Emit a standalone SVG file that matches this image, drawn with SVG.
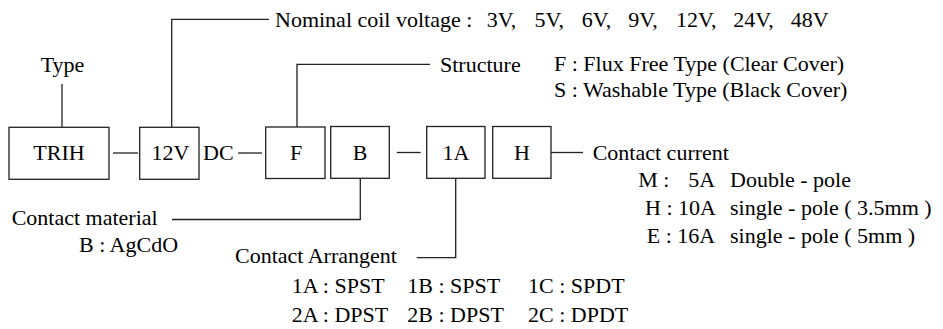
<svg xmlns="http://www.w3.org/2000/svg" width="943" height="329" viewBox="0 0 943 329">
<style>
text{font-family:'Liberation Serif','Times New Roman',Tinos,serif;font-size:22px;fill:#000}
.c{text-anchor:middle}
.box{fill:#fff;stroke:#222;stroke-width:1.3}
.ln{fill:none;stroke:#222;stroke-width:1.3}
</style>
<rect width="943" height="329" fill="#fff"/>
<g id="connectors">
<path class="ln" d="M62 84V127"/>
<path class="ln" d="M113 153H138"/>
<path class="ln" d="M171.7 127V19.3H269"/>
<path class="ln" d="M238 153H262"/>
<path class="ln" d="M297 127V64.3H430"/>
<path class="ln" d="M360.3 178V219.5H172"/>
<path class="ln" d="M396.7 152.5H420.7"/>
<path class="ln" d="M455.7 178V257.7H416.7"/>
<path class="ln" d="M551 152.5H583"/>
</g>
<g id="type"><text class="c" x="62.5" y="72">Type</text></g>
<g id="trih"><rect class="box" x="9" y="127.3" width="100" height="52"/><text class="c" x="59" y="160">TRIH</text></g>
<g id="v12"><rect class="box" x="139.7" y="127.3" width="59.3" height="52"/><text class="c" x="170.5" y="160">12V</text></g>
<g id="dc"><text x="203" y="160">DC</text></g>
<g id="f"><rect class="box" x="265.7" y="127" width="59.3" height="51.5"/><text class="c" x="296" y="160">F</text></g>
<g id="b"><rect class="box" x="330.7" y="126.5" width="58.6" height="51.8"/><text class="c" x="360" y="160">B</text></g>
<g id="a1"><rect class="box" x="426.7" y="126.5" width="58.3" height="51.8"/><text class="c" x="456" y="160">1A</text></g>
<g id="h"><rect class="box" x="492.7" y="126.5" width="58.3" height="51.8"/><text class="c" x="522" y="160">H</text></g>
<g id="nominal"><text y="26.7"><tspan x="275">Nominal coil voltage :</tspan><tspan x="486.7">3V,</tspan><tspan x="534.5">5V,</tspan><tspan x="581.7">6V,</tspan><tspan x="628.3">9V,</tspan><tspan x="676">12V,</tspan><tspan x="733.3">24V,</tspan><tspan x="790.7">48V</tspan></text></g>
<g id="structure"><text x="440" y="72">Structure</text>
<text x="554" y="71">F : Flux Free Type (Clear Cover)</text>
<text x="554" y="97">S : Washable Type (Black Cover)</text></g>
<g id="material"><text x="11.7" y="225">Contact material</text><text x="79" y="251.7">B : AgCdO</text></g>
<g id="arrangement"><text x="235" y="262.7">Contact Arrangent</text>
<text y="293.3"><tspan x="291.7">1A : SPST</tspan><tspan x="407.3">1B : SPST</tspan><tspan x="528">1C : SPDT</tspan></text>
<text y="321.7"><tspan x="291.7">2A : DPST</tspan><tspan x="407.3">2B : DPST</tspan><tspan x="528">2C : DPDT</tspan></text></g>
<g id="current"><text x="592.7" y="160">Contact current</text>
<text y="186.7"><tspan x="638.3">M :</tspan><tspan x="688.3">5A</tspan><tspan x="730">Double - pole</tspan></text>
<text y="215"><tspan x="645">H : 10A</tspan><tspan x="730">single - pole ( 3.5mm )</tspan></text>
<text y="243.3"><tspan x="646.7">E : 16A</tspan><tspan x="730">single - pole ( 5mm )</tspan></text></g>
</svg>
